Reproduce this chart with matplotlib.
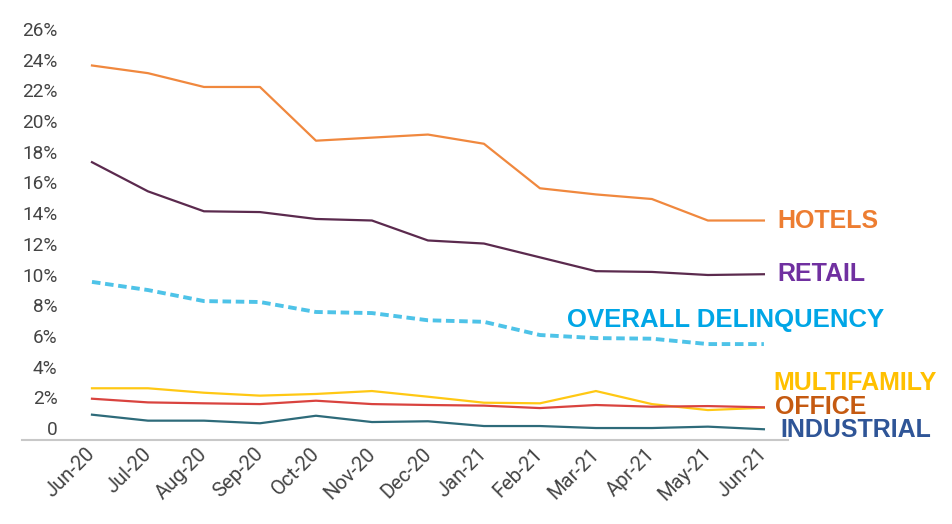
import matplotlib
matplotlib.use("Agg")
import matplotlib.pyplot as plt
import matplotlib.transforms as mtransforms

months = ["Jun-20", "Jul-20", "Aug-20", "Sep-20", "Oct-20", "Nov-20", "Dec-20",
          "Jan-21", "Feb-21", "Mar-21", "Apr-21", "May-21", "Jun-21"]

hotels = [24.4, 23.9, 23.0, 23.0, 19.5, 19.7, 19.9, 19.3, 16.4, 16.0, 15.7, 14.3, 14.3]
retail = [18.1, 16.2, 14.9, 14.85, 14.4, 14.3, 13.0, 12.8, 11.9, 11.0, 10.95, 10.75, 10.8]
overall = [10.3, 9.77, 9.05, 8.99, 8.34, 8.27, 7.8, 7.7, 6.84, 6.64, 6.6, 6.25, 6.25]
multifamily = [3.37, 3.37, 3.08, 2.89, 3.0, 3.19, 2.82, 2.43, 2.39, 3.19, 2.34, 1.95, 2.1]
office = [2.69, 2.45, 2.39, 2.34, 2.56, 2.34, 2.28, 2.24, 2.08, 2.28, 2.17, 2.21, 2.13]
industrial = [1.65, 1.26, 1.26, 1.09, 1.58, 1.17, 1.22, 0.91, 0.91, 0.78, 0.78, 0.87, 0.7]

y_ticks = [0, 2, 4, 6, 8, 10, 12, 14, 16, 18, 20, 22, 24, 26]
y_labels = ["0"] + [f"{v}%" for v in y_ticks[1:]]

fig = plt.figure(figsize=(9.52, 5.24), dpi=100)
ax = fig.add_axes([0.0231, 0.1603, 0.8046, 0.7824])

x = range(len(months))
ax.plot(x, hotels, color="#F0883E", lw=1.6)
ax.plot(x, retail, color="#5B2A4E", lw=1.6)
ax.plot(x, overall, color="#4EC3E8", lw=2.8, dashes=(2.2, 1.2))
ax.plot(x, multifamily, color="#FFC814", lw=1.6)
ax.plot(x, office, color="#D9433F", lw=1.6)
ax.plot(x, industrial, color="#2E6B7A", lw=1.6)

ax.set_xlim(-1.25, 12.43)
ax.set_ylim(0, 26.71)

for s in ["top", "right", "left"]:
    ax.spines[s].set_visible(False)
ax.spines["bottom"].set_color("#C8C8C8")
ax.spines["bottom"].set_linewidth(1.5)

ax.set_xticks(list(x))
ax.set_xticklabels(months, rotation=45, ha="right", fontsize=14.5,
                   family="Roboto", color="#444444")
ax.set_yticks(y_ticks)
ax.set_yticklabels(y_labels, fontsize=13.7, family="Roboto", color="#444444")
ax.tick_params(axis="both", length=0)
ax.tick_params(axis="y", pad=-25.5)
ax.tick_params(axis="x", pad=3)

# y labels sit above their gridline position
up = mtransforms.ScaledTranslation(0, 0.12, fig.dpi_scale_trans)
for lab in ax.get_yticklabels():
    lab.set_transform(lab.get_transform() + up)
right = mtransforms.ScaledTranslation(0.07, 0, fig.dpi_scale_trans)
for lab in ax.get_xticklabels():
    lab.set_transform(lab.get_transform() + right)

labels = [
    ("HOTELS", 12.24, 14.3, "#ED7D31", 18),
    ("RETAIL", 12.24, 10.8, "#7030A0", 18),
    ("OVERALL DELINQUENCY", 8.48, 7.8, "#00A6E6", 18.5),
    ("MULTIFAMILY", 12.17, 3.7, "#FFC000", 18),
    ("OFFICE", 12.19, 2.15, "#C55A11", 18),
    ("INDUSTRIAL", 12.29, 0.65, "#2F5597", 18),
]
for text, lx, ly, col, fs in labels:
    ax.text(lx, ly, text, color=col, fontsize=fs, fontweight="bold",
            family="Liberation Sans", va="center", ha="left", clip_on=False)

fig.savefig("out.png", dpi=100)
